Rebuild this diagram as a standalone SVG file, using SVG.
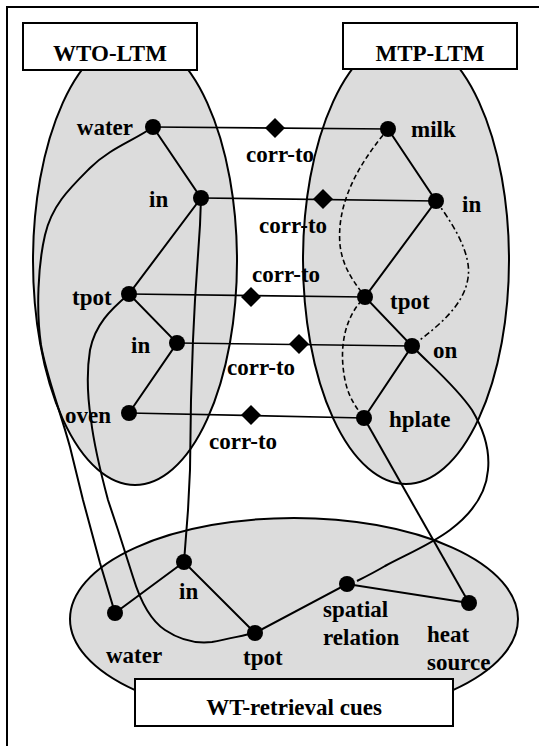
<svg xmlns="http://www.w3.org/2000/svg" width="539" height="746" viewBox="0 0 539 746">
<style>
.region{fill:#dcdcdc;stroke:#000;stroke-width:2}
.box{fill:#fff;stroke:#000;stroke-width:2}
.edge{fill:none;stroke:#000;stroke-width:2}
.corr{fill:none;stroke:#000;stroke-width:1.7}
.dash{fill:none;stroke:#000;stroke-width:1.6;stroke-dasharray:5,3}
.dashdot{fill:none;stroke:#000;stroke-width:1.6;stroke-dasharray:6,3,2,3}
.dot{fill:#000}
.dia{fill:#000}
</style>
<rect width="539" height="746" fill="#fff"/>
<path d="M7,760 V7 H560" fill="none" stroke="#000" stroke-width="2"/>
<g id="regions">
<ellipse id="wto-region" class="region" cx="135" cy="261" rx="102" ry="224"/>
<ellipse id="mtp-region" class="region" cx="406" cy="260" rx="103" ry="224"/>
<ellipse id="wt-region" class="region" cx="294" cy="619" rx="224" ry="101"/>
</g>
<g font-family="'Liberation Serif', 'DejaVu Serif', 'Times New Roman', serif" font-weight="bold" font-size="23" fill="#000">
<g id="wto-ltm"><rect class="box" x="23" y="23" width="174" height="47"/><text x="110" y="61" text-anchor="middle">WTO-LTM</text></g>
<g id="mtp-ltm"><rect class="box" x="343" y="23" width="174" height="46"/><text x="430" y="61" text-anchor="middle">MTP-LTM</text></g>
<g id="wt-cues"><rect class="box" x="135" y="679" width="318" height="47"/><text x="294" y="715" text-anchor="middle">WT-retrieval cues</text></g>
<g id="connectors">
<path class="corr" d="M153,127 L388,129"/>
<path class="corr" d="M201,198 L436,201"/>
<path class="corr" d="M129,294 L365,297"/>
<path class="corr" d="M177,343 L412,346"/>
<path class="corr" d="M129,413 L364,418"/>
<path class="edge" d="M153,127 L201,198 L129,294 L177,343 L129,413"/>
<path class="edge" d="M388,129 L436,201 L365,297 L412,346 L364,418"/>
<path class="edge" d="M115,613 L184,562 L255,633 L347,584 L469,603"/>
<path class="edge" d="M153,127 C135,140 110,148 90,168 C70,188 52,205 45,235 C38,265 36,310 41,345 C46,375 60,410 70,447 L83,500 L100,563 L115,613"/>
<path class="edge" d="M129,294 C110,310 95,325 90,350 C86,375 88,400 91,420 C94,445 100,470 108,500 L118,530 L133,577 C140,600 150,620 165,630 C180,640 195,644 212,642 C228,639 240,636 255,633"/>
<path class="edge" d="M201,198 L200,225 L198,255 L195,300 L193,340 L191,400 L190,470 L188,510 L184,562"/>
<path class="edge" d="M412,346 C430,365 455,385 472,410 C484,430 490,450 488,470 C486,495 470,515 450,530 C430,545 405,555 385,566 C375,572 365,577 357,581"/>
<path class="edge" d="M364,418 L469,603"/>
<path class="dash" d="M388,129 C362,160 336,200 340,245 C343,270 356,284 365,297 C346,315 338,345 345,380 C348,395 354,405 364,418"/>
<path class="dashdot" d="M436,201 C454,225 472,255 468,278 C464,305 440,325 412,346"/>
<polygon class="dia" points="275,118 285,128 275,138 265,128"/>
<polygon class="dia" points="323,189 333,199 323,209 313,199"/>
<polygon class="dia" points="251,287 261,297 251,307 241,297"/>
<polygon class="dia" points="299,334 309,344 299,354 289,344"/>
<polygon class="dia" points="251,405 261,415 251,425 241,415"/>
</g>
<g id="corr-labels">
<text x="246" y="162">corr-to</text>
<text x="259" y="233">corr-to</text>
<text x="252" y="282">corr-to</text>
<text x="227" y="375">corr-to</text>
<text x="209" y="449">corr-to</text>
</g>
<g id="n-water-wto"><circle class="dot" cx="153" cy="127" r="8"/><text x="133" y="135" text-anchor="end">water</text></g>
<g id="n-in1-wto"><circle class="dot" cx="201" cy="198" r="8"/><text x="149" y="207">in</text></g>
<g id="n-tpot-wto"><circle class="dot" cx="129" cy="294" r="8"/><text x="72" y="305">tpot</text></g>
<g id="n-in2-wto"><circle class="dot" cx="177" cy="343" r="8"/><text x="131" y="353">in</text></g>
<g id="n-oven-wto"><circle class="dot" cx="129" cy="413" r="8"/><text x="65" y="423">oven</text></g>
<g id="n-milk-mtp"><circle class="dot" cx="388" cy="129" r="8"/><text x="411" y="137">milk</text></g>
<g id="n-in-mtp"><circle class="dot" cx="436" cy="201" r="8"/><text x="462" y="212">in</text></g>
<g id="n-tpot-mtp"><circle class="dot" cx="365" cy="297" r="8"/><text x="390" y="309">tpot</text></g>
<g id="n-on-mtp"><circle class="dot" cx="412" cy="346" r="8"/><text x="433" y="358">on</text></g>
<g id="n-hplate-mtp"><circle class="dot" cx="364" cy="418" r="8"/><text x="389" y="427">hplate</text></g>
<g id="n-water-wt"><circle class="dot" cx="115" cy="613" r="8"/><text x="106" y="663">water</text></g>
<g id="n-in-wt"><circle class="dot" cx="184" cy="562" r="8"/><text x="179" y="599">in</text></g>
<g id="n-tpot-wt"><circle class="dot" cx="255" cy="633" r="8"/><text x="243" y="665">tpot</text></g>
<g id="n-spatial-wt"><circle class="dot" cx="347" cy="584" r="8"/><text x="323" y="617">spatial</text><text x="323" y="645">relation</text></g>
<g id="n-heat-wt"><circle class="dot" cx="469" cy="603" r="8"/><text x="427" y="642">heat</text><text x="427" y="670">source</text></g>
</g>
</svg>
